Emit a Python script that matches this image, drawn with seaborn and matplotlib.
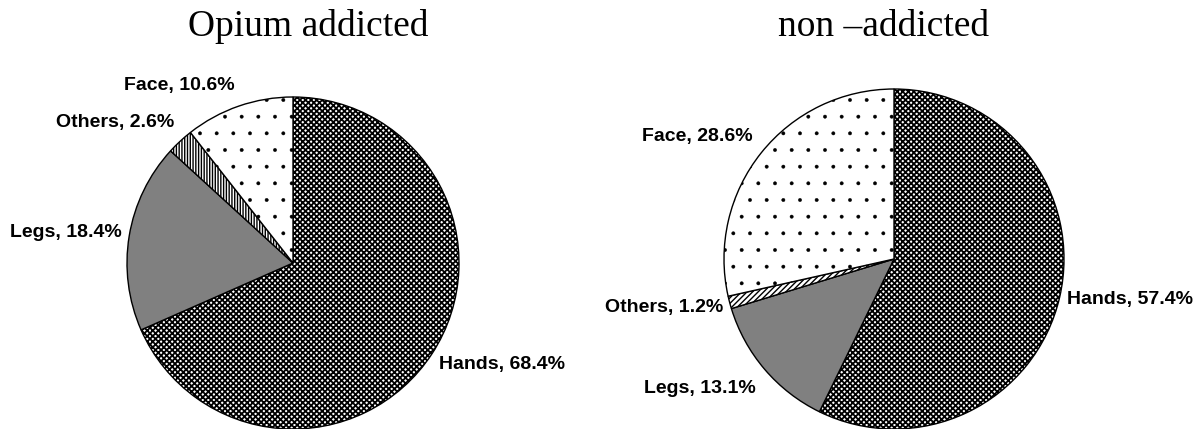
import matplotlib
matplotlib.use('Agg')
import matplotlib.pyplot as plt
import seaborn as sns

#region 1. Data
parts = ['Hands', 'Legs', 'Others', 'Face']
opium_pct = [68.4, 18.4, 2.6, 10.6]
non_pct = [57.4, 13.1, 1.2, 28.6]
titles = ['Opium addicted', 'non \u2013addicted']
#endregion

#region 2. Style
sns.set_theme(style='white')
plt.rcParams['font.family'] = ['Liberation Sans', 'DejaVu Sans']
plt.rcParams['hatch.color'] = 'black'
plt.rcParams['hatch.linewidth'] = 1.3

fills = ['white', '#808080', 'white', 'white']
hatch_left = ['xxxxxx', None, '||||||', '.']
hatch_right = ['xxxxxx', None, '//////', '.']
hatch_lw = [1.3, 1.0, 1.0, 0.3]

# label offsets in pie-radius units (x, y, ha)
lab_left = [(0.88, -0.614, 'left'), (-1.03, 0.181, 'right'),
            (-0.717, 0.849, 'right'), (-0.349, 1.072, 'right')]
lab_right = [(1.018, -0.241, 'left'), (-0.812, -0.759, 'right'),
             (-1.006, -0.288, 'right'), (-0.829, 0.718, 'right')]
#endregion

W, H = 1201, 429
fig = plt.figure(figsize=(W / 100, H / 100), dpi=100)


def pie_axes(cx, cy, r, half=2.0):
    ax = fig.add_axes([(cx - half * r) / W, (H - cy - half * r) / H,
                       2 * half * r / W, 2 * half * r / H])
    ax.set_xlim(-half, half)
    ax.set_ylim(-half, half)
    ax.set_facecolor('none')
    ax.axis('off')
    return ax


def draw(ax, vals, hatches, labs):
    wedges, _ = ax.pie(vals, startangle=90, counterclock=False, colors=fills,
                       wedgeprops=dict(edgecolor='black', linewidth=1.0))
    for w, h, lw in zip(wedges, hatches, hatch_lw):
        if h:
            w.set_hatch(h)
            if hasattr(w, 'set_hatch_linewidth'):
                w.set_hatch_linewidth(lw)
    for name, v, (x, y, ha) in zip(parts, vals, labs):
        ax.text(x, y, f'{name}, {v}%', ha=ha, va='center',
                fontsize=14, fontweight='bold', color='black')
    ax.set_xlim(-2, 2)
    ax.set_ylim(-2, 2)


ax1 = pie_axes(293, 263, 166)
draw(ax1, opium_pct, hatch_left, lab_left)
ax2 = pie_axes(894, 259, 170)
draw(ax2, non_pct, hatch_right, lab_right)

for x, t in zip([308, 884], titles):
    fig.text(x / W, 1 - 36 / H, t, ha='center', va='baseline', fontsize=27,
             family=['Liberation Serif', 'DejaVu Serif'], color='black')

fig.savefig('out.png', dpi=100, facecolor='white')
